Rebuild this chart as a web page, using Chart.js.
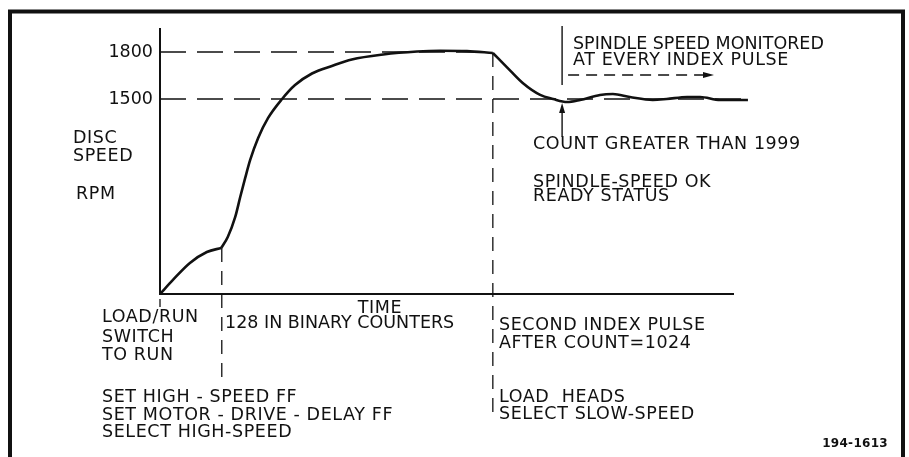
<!DOCTYPE html>
<html>
<head>
<meta charset="utf-8">
<script src="https://cdn.jsdelivr.net/npm/chart.js@4/dist/chart.umd.min.js"></script>
<style>
  html, body { margin: 0; padding: 0; background: #fff; }
  canvas { display: block; }
</style>
</head>
<body>
<canvas id="chart" width="909" height="457"></canvas>
<script>
// disc speed (rpm) against time; time in arbitrary units
const riseT = [0, 2.6, 6.0, 9.4, 12.3];
const riseRpm = [255, 345, 453, 523, 549];
const accelT = [12.3, 13.6, 15.1, 16.1, 17.1, 18.1, 19.7, 21.7, 24.5, 27.1, 30.5, 34.5, 38.5, 44.8, 51.6, 56.2, 61.6, 66.8];
const accelRpm = [549, 619, 747, 874, 996, 1111, 1251, 1379, 1500, 1589, 1663, 1711, 1752, 1784, 1803, 1808, 1806, 1794];
const settleT = [66.8, 69.6, 72.8, 76.3, 78.9, 81.7, 84.3, 88.3, 90.9, 94.3, 98.9, 101.7, 105.8, 108.4, 112.4, 118.0];
const settleRpm = [1794, 1704, 1602, 1526, 1500, 1481, 1494, 1526, 1532, 1513, 1494, 1500, 1513, 1513, 1494, 1494];

const yTicks = [1500, 1800];
const refEnd = [66.8, 118.4];          // where the dashed 1800 / 1500 lines stop
const eventT = [12.4, 66.8];           // 128 in counters, second index pulse
const eventRpm = [549, 1794];
const eventBottom = [382, 421];
const countT = 80.7;                   // count greater than 1999

const FONT = "DejaVu Sans";
const INK = "#111";

function pts(xs, ys) {
    return xs.map((x, i) => ({x, y: ys[i]}));
}

// y label, x axis name and the notes round the plot: text, left, middle, letter spacing
const notes = [
    ["DISC", 73, 137], ["SPEED", 73, 155], ["RPM", 76, 193],
    ["SPINDLE SPEED MONITORED", 573, 43, 0], ["AT EVERY INDEX PULSE", 573, 59],
    ["COUNT GREATER THAN 1999", 533, 143],
    ["SPINDLE-SPEED OK", 533, 181], ["READY STATUS", 533, 195],
    ["128 IN BINARY COUNTERS", 225, 322, 0],
    ["LOAD/RUN", 102, 316], ["SWITCH", 102, 336], ["TO RUN", 102, 354],
    ["SET HIGH - SPEED FF", 102, 396], ["SET MOTOR - DRIVE - DELAY FF", 102, 414],
    ["SELECT HIGH-SPEED", 102, 431],
    ["SECOND INDEX PULSE", 499, 324], ["AFTER COUNT=1024", 499, 342],
    ["LOAD  HEADS", 499, 396], ["SELECT SLOW-SPEED", 499, 413]
];

function line(ctx, x1, y1, x2, y2) {
    ctx.beginPath();
    ctx.moveTo(x1, y1);
    ctx.lineTo(x2, y2);
    ctx.stroke();
}

const decor = {
    id: "decor",
    afterDraw(chart) {
        const ctx = chart.ctx, xs = chart.scales.x, ys = chart.scales.y;
        ctx.save();
        ctx.strokeStyle = INK;
        ctx.fillStyle = INK;

        // frame
        ctx.lineWidth = 4;
        ctx.beginPath();
        ctx.moveTo(10, 470);
        ctx.lineTo(10, 11.5);
        ctx.lineTo(903, 11.5);
        ctx.lineTo(903, 470);
        ctx.stroke();

        // event markers
        ctx.lineWidth = 1.3;
        ctx.setLineDash([14, 9]);
        eventT.forEach((t, i) => {
            const x = xs.getPixelForValue(t);
            line(ctx, x, ys.getPixelForValue(eventRpm[i]), x, eventBottom[i]);
        });
        ctx.setLineDash([]);
        const x0 = xs.getPixelForValue(0);
        line(ctx, x0, 299, x0, 307);

        // monitoring marker and arrows
        const xc = xs.getPixelForValue(countT);
        ctx.lineWidth = 1.4;
        line(ctx, xc, 26, xc, 85);
        ctx.setLineDash([11, 7]);
        line(ctx, xc + 6, 75, 704, 75);
        ctx.setLineDash([]);
        ctx.beginPath();
        ctx.moveTo(714, 75); ctx.lineTo(703, 72); ctx.lineTo(703, 78); ctx.closePath();
        ctx.fill();
        line(ctx, xc, 137, xc, 111);
        ctx.beginPath();
        ctx.moveTo(xc, 103); ctx.lineTo(xc - 3, 113); ctx.lineTo(xc + 3, 113); ctx.closePath();
        ctx.fill();

        // text
        ctx.font = "17.5px '" + FONT + "'";
        ctx.textBaseline = "alphabetic";
        ctx.textAlign = "left";
        for (const [s, x, y, sp = 0.6] of notes) {
            ctx.letterSpacing = sp + "px";
            ctx.fillText(s, x, y + 6);
        }
        ctx.letterSpacing = "0.6px";
        ctx.textAlign = "center";
        ctx.fillText("TIME", 380, 313);
        ctx.letterSpacing = "0.3px";
        ctx.font = "bold 12px '" + FONT + "'";
        ctx.textAlign = "right";
        ctx.fillText("194-1613", 888, 447);
        ctx.restore();
    }
};

const dashed = {borderColor: INK, borderWidth: 1.3, borderDash: [26, 11], pointRadius: 0, tension: 0, clip: false};
const curve = {borderColor: INK, borderWidth: 2.6, pointRadius: 0, cubicInterpolationMode: "monotone", clip: false};

new Chart(document.getElementById("chart"), {
    type: "line",
    data: {
        datasets: [
            {...dashed, data: [{x: 0, y: yTicks[1]}, {x: refEnd[0], y: yTicks[1]}]},
            {...dashed, data: [{x: 0, y: yTicks[0]}, {x: refEnd[1], y: yTicks[0]}]},
            {...curve, data: pts(riseT, riseRpm)},
            {...curve, data: pts(accelT, accelRpm)},
            {...curve, data: pts(settleT, settleRpm)}
        ]
    },
    options: {
        responsive: false,
        animation: false,
        devicePixelRatio: 1,
        layout: {padding: {top: 29, right: 176, left: 0, bottom: 0}},
        plugins: {legend: {display: false}, tooltip: {enabled: false}},
        scales: {
            x: {
                type: "linear", min: 0, max: 115,
                grid: {display: false, drawTicks: false},
                ticks: {display: false},
                border: {display: true, color: INK, width: 2},
                afterFit(s) { s.height = 163; }
            },
            y: {
                type: "linear", min: 255, max: 1947,
                grid: {display: false, drawTicks: false},
                afterBuildTicks(s) { s.ticks = yTicks.map(v => ({value: v})); },
                ticks: {
                    color: INK, padding: 7,
                    font: {family: FONT, size: 17.5},
                    callback: v => String(v)
                },
                border: {display: true, color: INK, width: 2},
                afterFit(s) { s.width = 160; }
            }
        }
    },
    plugins: [decor]
});
</script>
</body>
</html>
